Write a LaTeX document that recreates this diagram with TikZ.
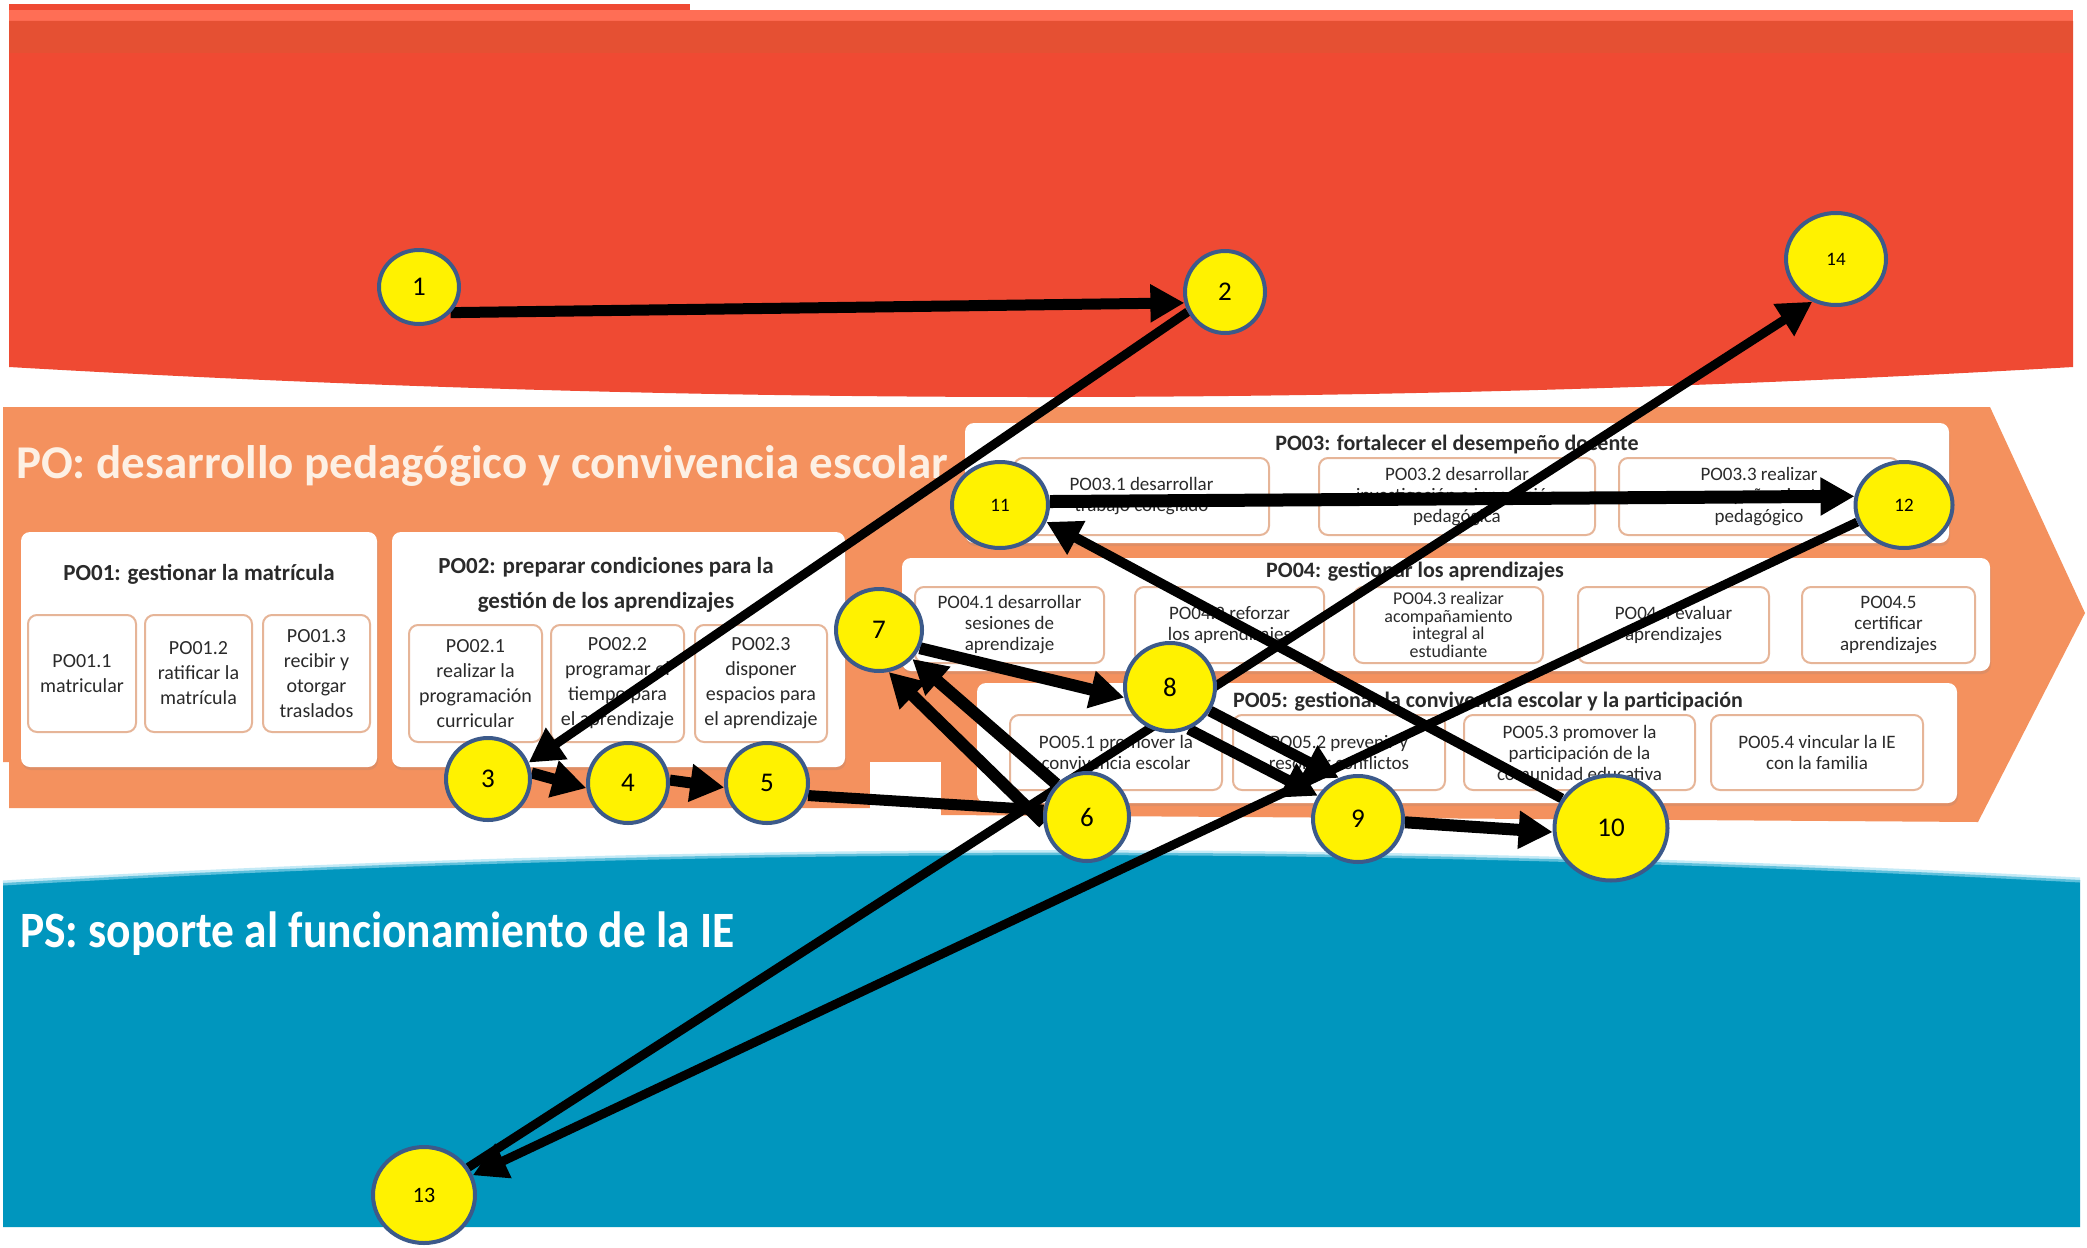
\documentclass[tikz,border=0pt]{standalone}
\usepackage{fontspec}
\setmainfont{Carlito}
\usetikzlibrary{shapes.geometric,arrows.meta,shadows}
\pgfdeclarelayer{back}
\pgfdeclarelayer{mid}
\pgfsetlayers{back,mid,main}

\definecolor{redband}{HTML}{EF4A33}
\definecolor{redtop}{HTML}{FF6E55}
\definecolor{reddark}{HTML}{E55033}
\definecolor{orangeband}{HTML}{F4915E}
\definecolor{blueband}{HTML}{0096BE}
\definecolor{bluefringe}{HTML}{9EDCF0}
\definecolor{cream}{HTML}{FDF0E4}
\definecolor{subline}{HTML}{E6B598}
\definecolor{numline}{HTML}{3C5A8A}
\definecolor{boxtext}{HTML}{2A2A2A}

\begin{document}
\begin{tikzpicture}[x=1pt,y=-1pt,
  grp/.style={fill=white, rounded corners=9pt, drop shadow={shadow xshift=1pt,shadow yshift=-3pt,opacity=.18}},
  sub/.style={draw=subline, fill=white, rounded corners=9pt, line width=2pt, align=center, text=boxtext, inner sep=2pt, font=\fontsize{20}{25}\selectfont},
  subr/.style={sub, font=\fontsize{19}{21}\selectfont},
  ttl/.style={text=boxtext, align=center, font=\bfseries\fontsize{23}{35}\selectfont},
  ttlr/.style={ttl, font=\bfseries\fontsize{22}{26}\selectfont},
  num/.style={ellipse, draw=numline, fill=yellow, line width=4pt, inner sep=0pt, font=\fontsize{27}{27}\selectfont},
  link/.style={line width=11pt, -{Triangle[length=34pt,width=36pt]}},
]
\useasboundingbox (0,0) rectangle (2087,1247);

\begin{pgfonlayer}{back}
% bands
\fill[white] (0,0) rectangle (2087,1247);
\fill[redband] (9,4) rectangle (690,10);
\fill[redtop] (9,10) rectangle (2073,21);
\fill[redband] (9,21) -- (2073,21) -- (2073,367) .. controls (1380,407) and (700,407) .. (9,367) -- cycle;
\fill[reddark] (9,21) rectangle (2073,53);
\fill[orangeband] (3,407) -- (1990,407) -- (2085,613) -- (1978,822) -- (941,815) -- (941,808)
  -- (9,808) -- (9,762) -- (3,762) -- cycle;
\fill[white] (870,762) rectangle (941,812);
\fill[blueband] (3,883) .. controls (700,843) and (1380,843) .. (2080,880) -- (2080,1227) -- (3,1227) -- cycle;
\draw[bluefringe, line width=5pt, opacity=.6] (3,883) .. controls (700,843) and (1380,843) .. (2080,880);

\node[anchor=base west, inner sep=0pt, text=cream, font=\bfseries\fontsize{47}{47}\selectfont] (potxt) at (16,478)
  {PO: desarrollo pedagógico y convivencia escolar};
\node[anchor=base west, inner sep=0pt, text=white, font=\bfseries\fontsize{45.5}{45.5}\selectfont] (pstxt) at (20,947)
  {\scalebox{1}[1.12]{PS: soporte al funcionamiento de la IE}};

% process groups
\node[grp, minimum width=356pt, minimum height=235pt] (po01) at (199,649.5) {};
\node[ttl] (po01t) at (199,574) {PO01: gestionar la matrícula};
\node[sub, minimum width=108pt, minimum height=117pt] (po011) at (82,673.5) {PO01.1\\matricular};
\node[sub, minimum width=107pt, minimum height=117pt] (po012) at (198.5,673.5) {PO01.2\\ratificar la\\matrícula};
\node[sub, minimum width=107pt, minimum height=117pt] (po013) at (316.5,673.5) {PO01.3\\recibir y\\otorgar\\traslados};

\node[grp, minimum width=453pt, minimum height=235pt] (po02) at (618.5,649.5) {};
\node[ttl] (po02t) at (606,585) {PO02: preparar condiciones para la\\gestión de los aprendizajes};
\node[sub, minimum width=133pt, minimum height=117pt] (po021) at (475.5,683.5) {PO02.1\\realizar la\\programación\\curricular};
\node[sub, minimum width=133pt, minimum height=117pt] (po022) at (617.5,683.5) {PO02.2\\programar el\\tiempo para\\el aprendizaje};
\node[sub, minimum width=132pt, minimum height=117pt] (po023) at (761,683.5) {PO02.3\\disponer\\espacios para\\el aprendizaje};

\node[grp, minimum width=984pt, minimum height=120pt] (po03) at (1457,483) {};
\node[ttlr] (po03t) at (1457,445) {PO03: fortalecer el desempeño docente};
\node[subr, minimum width=255pt, minimum height=77pt] (po031) at (1141.5,496.5) {PO03.1 desarrollar\\trabajo colegiado};
\node[subr, minimum width=276pt, minimum height=77pt] (po032) at (1457,496.5) {PO03.2 desarrollar\\investigación e innovación\\pedagógica};
\node[subr, minimum width=280pt, minimum height=77pt] (po033) at (1759,496.5) {PO03.3 realizar\\acompañamiento\\pedagógico};

\node[grp, minimum width=1088pt, minimum height=113pt] (po04) at (1446,614.5) {};
\node[ttlr] (po04t) at (1415,572) {PO04: gestionar los aprendizajes};
\node[subr, minimum width=189pt, minimum height=76pt] (po041) at (1009.5,625) {PO04.1 desarrollar\\sesiones de\\aprendizaje};
\node[subr, minimum width=189pt, minimum height=76pt] (po042) at (1229.5,625) {PO04.2 reforzar\\los aprendizajes};
\node[subr, minimum width=189pt, minimum height=76pt, font=\fontsize{18}{17.5}\selectfont] (po043) at (1448.5,625) {PO04.3 realizar\\acompañamiento\\integral al\\estudiante};
\node[subr, minimum width=191pt, minimum height=76pt] (po044) at (1673.5,625) {PO04.4 evaluar\\aprendizajes};
\node[subr, minimum width=173pt, minimum height=76pt] (po045) at (1888.5,625) {PO04.5\\certificar\\aprendizajes};

\node[grp, minimum width=980pt, minimum height=120pt] (po05) at (1467,743) {};
\node[ttlr] (po05t) at (1488,702) {PO05: gestionar la convivencia escolar y la participación};
\node[subr, minimum width=212pt, minimum height=75pt] (po051) at (1116,752.5) {PO05.1 promover la\\convivencia escolar};
\node[subr, minimum width=212pt, minimum height=75pt] (po052) at (1339,752.5) {PO05.2 prevenir y\\resolver conflictos};
\node[subr, minimum width=231pt, minimum height=75pt] (po053) at (1579.5,752.5) {PO05.3 promover la\\participación de la\\comunidad educativa};
\node[subr, minimum width=212pt, minimum height=75pt] (po054) at (1817,752.5) {PO05.4 vincular la IE\\con la familia};
\end{pgfonlayer}

% numbered steps
\node[num, minimum width=80pt, minimum height=74pt] (n1) at (419,287) {1};
\node[num, minimum width=80pt, minimum height=82pt] (n2) at (1225,292) {2};
\node[num, minimum width=84pt, minimum height=82pt] (n3) at (488,779) {3};
\node[num, minimum width=80pt, minimum height=80pt] (n4) at (628,783) {4};
\node[num, minimum width=82pt, minimum height=80pt] (n5) at (767,783) {5};
\node[num, minimum width=84pt, minimum height=88pt] (n6) at (1087,817) {6};
\node[num, minimum width=86pt, minimum height=82pt] (n7) at (879,630) {7};
\node[num, minimum width=90pt, minimum height=88pt] (n8) at (1170,687) {8};
\node[num, minimum width=90pt, minimum height=86pt] (n9) at (1358,819) {9};
\node[num, minimum width=113pt, minimum height=105pt] (n10) at (1611,828) {10};
\node[num, minimum width=96pt, minimum height=86pt, font=\fontsize{19}{19}\selectfont] (n11) at (1000,505) {11};
\node[num, minimum width=97pt, minimum height=86pt, font=\fontsize{19}{19}\selectfont] (n12) at (1904,505) {12};
\node[num, minimum width=102pt, minimum height=96pt, font=\fontsize{22}{22}\selectfont] (n13) at (424,1195) {13};
\node[num, minimum width=100pt, minimum height=92pt, font=\fontsize{19}{19}\selectfont] (n14) at (1836,259) {14};

\begin{pgfonlayer}{mid}
\path[link]
  (n1.-39) edge (n2.195)
  (n2.208) edge[line width=9pt] (n3.22)
  (n3.8) edge (n4.187)
  (n4.4) edge (n5.186)
  (n5.-17) edge[-] (n6.171)
  (n6.133) edge[line width=12pt] (n7.-41)
  (n6.188) edge[line width=12pt] (n7.-77)
  (n7.-24) edge[line width=12pt] (n8.193)
  (n8.-31) edge (n9.115)
  (n8.-66) edge (n9.150)
  (n9.-4) edge[line width=12pt] (n10.184)
  (n10.149) edge[line width=10pt] (n11.-20)
  (n11.4) edge[line width=13pt] (n12.170)
  (n12.200) edge[line width=9pt] (n13.22)
  (n13.32) edge[line width=9pt] (n14.241);
\end{pgfonlayer}
\end{tikzpicture}
\end{document}
